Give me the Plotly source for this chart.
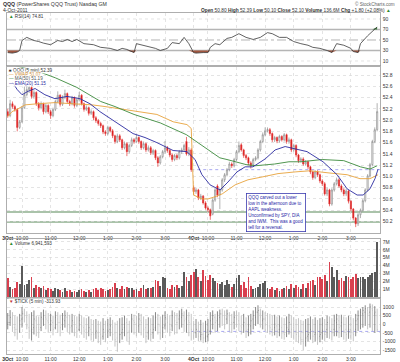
import plotly.graph_objects as go

# ---------------- data ----------------
bars = list(range(156))  # 5-minute bars, 3-Oct (0..77) and 4-Oct (78..155)
tick_pos = [0, 6, 18, 30, 42, 54, 66, 78, 84, 96, 108, 120, 132, 144]
tick_txt = ["<b>3Oct</b>", "10:00", "11:00", "12:00", "1:00", "2:00", "3:00",
            "<b>4Oct</b>", "10:00", "11:00", "12:00", "1:00", "2:00", "3:00"]

qqq_open = [
    52.15, 52.08, 52.29, 52.24, 52.19, 51.87, 51.97, 52.22, 52.45, 52.54,
    52.58, 52.42, 52.49, 52.29, 52.22, 52.29, 52.15, 52.26, 52.15, 52.08,
    52.19, 52.33, 52.44, 52.28, 52.40, 52.47, 52.33, 52.29, 52.40, 52.26,
    52.36, 52.44, 52.29, 52.19, 52.22, 52.12, 52.15, 52.04, 51.99, 51.94,
    51.90, 51.79, 51.76, 51.87, 51.81, 51.72, 51.62, 51.72, 51.65, 51.51,
    51.58, 51.44, 51.55, 51.65, 51.62, 51.69, 51.62, 51.51, 51.58, 51.47,
    51.51, 51.42, 51.46, 51.33, 51.24, 51.35, 51.44, 51.51, 51.46, 51.38,
    51.30, 51.37, 51.33, 51.44, 51.47, 51.62, 51.40, 51.47,
    50.80, 50.73, 50.76, 50.62, 50.65, 50.53, 50.44, 50.41, 50.33, 50.58,
    50.83, 50.67, 50.76, 50.94, 51.03, 51.12, 51.22, 51.19, 51.30, 51.44,
    51.56, 51.47, 51.37, 51.33, 51.24, 51.21, 51.30, 51.33, 51.47, 51.62,
    51.74, 51.81, 51.83, 51.76, 51.65, 51.69, 51.63, 51.71, 51.65, 51.74,
    51.62, 51.65, 51.47, 51.55, 51.38, 51.28, 51.31, 51.22, 51.26, 51.17,
    51.08, 50.98, 51.08, 51.03, 50.92, 50.87, 50.69, 50.76, 50.51, 50.76,
    50.87, 50.94, 50.83, 50.76, 50.69, 50.74, 50.56, 50.42, 50.26, 50.16,
    50.32, 50.40, 50.57, 50.76, 51.01, 51.21, 51.62, 51.83]
qqq_high = [
    52.20, 52.36, 52.33, 52.27, 52.21, 52.00, 52.25, 52.60, 52.65, 52.62,
    52.60, 52.53, 52.51, 52.32, 52.33, 52.31, 52.29, 52.28, 52.18, 52.22,
    52.36, 52.51, 52.46, 52.44, 52.54, 52.49, 52.36, 52.43, 52.42, 52.40,
    52.50, 52.46, 52.31, 52.26, 52.24, 52.19, 52.17, 52.07, 52.02, 51.97,
    51.92, 51.82, 51.90, 51.89, 51.84, 51.74, 51.76, 51.75, 51.67, 51.62,
    51.61, 51.58, 51.69, 51.68, 51.74, 51.71, 51.64, 51.62, 51.60, 51.55,
    51.54, 51.49, 51.48, 51.36, 51.38, 51.47, 51.63, 51.54, 51.49, 51.41,
    51.40, 51.40, 51.47, 51.51, 51.58, 51.70, 51.52, 51.50,
    50.84, 50.80, 50.78, 50.69, 50.67, 50.56, 50.47, 50.43, 50.61, 50.80,
    50.86, 50.79, 50.97, 51.06, 51.15, 51.26, 51.25, 51.33, 51.47, 51.62,
    51.59, 51.49, 51.40, 51.35, 51.27, 51.33, 51.36, 51.50, 51.65, 51.78,
    51.87, 51.87, 51.86, 51.78, 51.72, 51.71, 51.74, 51.73, 51.77, 51.76,
    51.69, 51.67, 51.58, 51.57, 51.40, 51.34, 51.34, 51.29, 51.28, 51.19,
    51.10, 51.11, 51.11, 51.05, 50.95, 50.90, 50.80, 50.78, 50.79, 50.90,
    50.98, 50.97, 50.86, 50.79, 50.78, 50.76, 50.58, 50.44, 50.28, 50.35,
    50.43, 50.60, 50.79, 51.04, 51.24, 51.65, 51.87, 52.30]
qqq_low = [
    52.04, 52.05, 52.20, 52.15, 51.80, 51.84, 51.95, 52.20, 52.42, 52.48,
    52.38, 52.38, 52.25, 52.17, 52.19, 52.10, 52.12, 52.11, 52.02, 52.05,
    52.16, 52.30, 52.24, 52.25, 52.37, 52.30, 52.25, 52.26, 52.22, 52.23,
    52.33, 52.26, 52.15, 52.16, 52.08, 52.09, 52.00, 51.95, 51.90, 51.86,
    51.75, 51.72, 51.73, 51.78, 51.68, 51.58, 51.59, 51.61, 51.47, 51.48,
    51.36, 51.41, 51.52, 51.58, 51.59, 51.58, 51.47, 51.48, 51.43, 51.44,
    51.38, 51.38, 51.29, 51.17, 51.21, 51.32, 51.41, 51.42, 51.34, 51.26,
    51.27, 51.29, 51.30, 51.40, 51.44, 51.37, 51.36, 51.08,
    50.68, 50.69, 50.58, 50.58, 50.50, 50.41, 50.37, 50.23, 50.31, 50.55,
    50.63, 50.42, 50.73, 50.90, 51.00, 51.09, 51.15, 51.16, 51.27, 51.41,
    51.44, 51.33, 51.29, 51.20, 51.14, 51.17, 51.27, 51.30, 51.44, 51.59,
    51.71, 51.78, 51.72, 51.61, 51.61, 51.59, 51.60, 51.62, 51.62, 51.58,
    51.58, 51.43, 51.44, 51.34, 51.24, 51.25, 51.19, 51.19, 51.13, 51.04,
    50.94, 50.95, 50.99, 50.88, 50.83, 50.66, 50.65, 50.47, 50.48, 50.73,
    50.84, 50.80, 50.72, 50.65, 50.65, 50.52, 50.38, 50.22, 50.10, 50.12,
    50.26, 50.37, 50.54, 50.73, 50.98, 51.18, 51.59, 51.80]
qqq_close = [
    52.08, 52.29, 52.24, 52.19, 51.87, 51.97, 52.22, 52.45, 52.54, 52.58,
    52.42, 52.49, 52.29, 52.22, 52.29, 52.15, 52.26, 52.15, 52.08, 52.19,
    52.33, 52.44, 52.28, 52.40, 52.47, 52.33, 52.29, 52.40, 52.26, 52.36,
    52.44, 52.29, 52.19, 52.22, 52.12, 52.15, 52.04, 51.99, 51.94, 51.90,
    51.79, 51.76, 51.87, 51.81, 51.72, 51.62, 51.72, 51.65, 51.51, 51.58,
    51.44, 51.55, 51.65, 51.62, 51.69, 51.62, 51.51, 51.58, 51.47, 51.51,
    51.42, 51.46, 51.33, 51.24, 51.35, 51.44, 51.51, 51.46, 51.38, 51.30,
    51.37, 51.33, 51.44, 51.47, 51.55, 51.40, 51.47, 51.12,
    50.73, 50.76, 50.62, 50.65, 50.53, 50.44, 50.41, 50.30, 50.58, 50.76,
    50.67, 50.76, 50.94, 51.03, 51.12, 51.22, 51.19, 51.30, 51.44, 51.55,
    51.47, 51.37, 51.33, 51.24, 51.19, 51.30, 51.33, 51.47, 51.62, 51.74,
    51.81, 51.83, 51.76, 51.65, 51.69, 51.63, 51.71, 51.65, 51.74, 51.62,
    51.65, 51.47, 51.55, 51.38, 51.28, 51.31, 51.22, 51.26, 51.17, 51.08,
    50.98, 51.08, 51.03, 50.92, 50.87, 50.69, 50.76, 50.51, 50.76, 50.87,
    50.94, 50.83, 50.76, 50.69, 50.74, 50.56, 50.42, 50.26, 50.16, 50.32,
    50.40, 50.57, 50.76, 51.01, 51.21, 51.62, 51.83, 52.15]

ma50_x = [0, 7, 13, 20, 29, 39, 45, 53, 64, 75, 79, 81, 89, 92, 100, 104,
          112, 118, 123, 132, 141, 148, 152, 155]
ma50_y = [53.00, 52.93, 52.86, 52.75, 52.58, 52.33, 52.24, 52.10, 51.95, 51.74,
          51.62, 51.56, 51.33, 51.30, 51.21, 51.19, 51.22, 51.26, 51.26, 51.30,
          51.28, 51.17, 51.13, 51.19]

ema20_x = [2, 4, 6, 8.5, 11.5, 15.6, 19.8, 24.9, 30.3, 34.5, 38.7, 45, 52.6,
           57.6, 62.6, 69.4, 75.2, 78.6, 81.5, 84.9, 89.1, 92.4, 96.2, 99.6,
           102.9, 108, 112.2, 116.4, 120.6, 125.6, 132.3, 138.2, 142.4, 146.6,
           149.1, 152, 154.1, 155.4]
ema20_y = [52.67, 52.54, 52.45, 52.51, 52.56, 52.45, 52.38, 52.42, 52.38, 52.29,
           52.15, 51.97, 51.76, 51.69, 51.60, 51.46, 51.44, 51.30, 51.03, 50.85,
           50.76, 50.90, 51.08, 51.17, 51.17, 51.31, 51.47, 51.53, 51.49, 51.44,
           51.26, 51.03, 50.78, 50.67, 50.67, 50.78, 50.96, 51.13]

vwap_x = [0, 1.8, 4.3, 7.3, 12.7, 19.8, 27, 35.4, 40.8, 52.6, 62.6, 69.4, 75.2, 77,
          78, 81.5, 84, 87, 90, 95.4, 100.8, 106.7, 113.4, 120.6, 126.8, 135.2,
          142.4, 147.8, 152, 155.4]
vwap_y = [52.06, 52.15, 52.20, 52.27, 52.29, 52.31, 52.29, 52.27, 52.24, 52.17,
          52.10, 51.97, 51.92, 51.85,
          50.67, 50.60, 50.60, 50.64, 50.69, 50.85, 50.94, 50.99, 51.05, 51.08,
          51.10, 51.06, 51.03, 50.96, 50.96, 51.03]

support_levels = [50.37, 50.19]
prev_close_level = 51.12

rsi_x = [0, 2, 4, 5, 6, 8, 9, 11, 13, 15, 18, 21, 23, 25, 27, 29, 32, 36, 39, 43,
         46, 48, 50, 53, 54, 57, 60, 62, 64, 67, 69, 72, 74, 76, 78, 79, 82, 84, 85, 87,
         89, 92, 94, 97, 100, 103, 106, 109, 111, 114, 117, 120, 123, 126, 128, 131,
         134, 136, 138, 141, 144, 145, 147, 148, 151, 153, 155]
rsi_val = [26, 25, 27, 30, 49, 55, 53, 49, 47, 44, 41, 49, 47, 51, 47, 51, 43, 41, 36, 34,
           30, 34, 32, 26, 43, 40, 36, 34, 30, 34, 45, 43, 55, 43, 26, 25, 26, 26, 36, 43,
           41, 53, 55, 62, 55, 51, 55, 64, 62, 55, 55, 47, 43, 40, 36, 34,
           30, 26, 43, 40, 34, 28, 26, 43, 58, 66, 74.8]

volume_m = [
    2.4, 1.3, 1.0, 1.2, 1.9, 1.7, 4.0, 1.5, 1.7, 2.2,
    2.6, 1.2, 1.5, 1.3, 1.2, 1.4, 0.9, 1.1, 1.0, 0.8,
    1.1, 1.0, 0.9, 0.7, 1.2, 0.8, 0.9, 0.6, 0.8, 0.7,
    0.9, 1.0, 0.8, 0.6, 0.9, 0.7, 1.0, 1.1, 0.9, 1.2,
    1.0, 0.8, 0.9, 1.0, 1.3, 1.8, 1.1, 1.0, 1.4, 1.0,
    1.3, 1.1, 1.2, 0.9, 1.0, 0.8, 1.1, 1.5, 1.0, 1.2,
    1.1, 1.3, 2.2, 2.0, 1.4, 2.6, 2.4, 1.2, 1.0, 1.5,
    1.3, 1.5, 1.2, 1.4, 3.2, 2.6, 2.0, 2.8,
    3.2, 3.6, 2.6, 2.0, 3.4, 2.7, 2.2, 2.8, 2.4, 2.0,
    1.8, 1.6, 1.9, 1.5, 2.2, 1.7, 1.3, 1.6, 2.4, 2.8,
    1.5, 1.9, 1.2, 2.6, 1.4, 1.0, 1.1, 1.3, 1.6, 1.8,
    2.0, 1.2, 1.0, 1.3, 0.9, 1.1, 0.8, 1.0, 1.2, 1.4,
    1.0, 1.6, 1.1, 1.5, 1.3, 1.0, 1.7, 1.2, 1.8, 2.0,
    2.2, 1.5, 2.5, 2.6, 2.3, 2.8, 2.0, 4.5, 3.8, 2.6,
    3.4, 2.2, 2.4, 2.0, 2.7, 2.5, 2.3, 2.6, 2.9, 2.4,
    2.6, 2.5, 2.3, 2.6, 2.8, 3.0, 3.2, 6.94]

tick_high = [
    650, 820, 700, 500, 450, 600, 1000, 900, 750, 600, 700, 800,
    500, 450, 700, 850, 800, 650, 600, 500, 750, 700, 550, 650,
    800, 700, 550, 600, 500, 450, 600, 500, 400, 350, 450, 300,
    250, 300, 200, 150, 350, 200, 300, 400, 250, 100, 200, 350,
    400, 500, 350, 200, 600, 550, 500, 650, 600, 450, 300, 400,
    350, 500, 700, 600, 450, 550, 750, 600, 500, 800, 700, 650,
    800, 900, 750, 850, 700, 600,
    200, 300, 150, 250, 100, 200, 300, 700, 800, 600, 750, 850,
    900, 800, 850, 700, 600, 750, 800, 700, 500, 600, 400, 500,
    600, 800, 1000, 1100, 900, 800, 700, 650, 600, 500, 550, 450,
    500, 400, 350, 450, 600, 500, 400, 300, 350, 250, 200, 300,
    350, 450, 300, 400, 250, 350, 400, 300, 500, 450, 350, 550,
    600, 500, 550, 450, 400, 500, 450, 350, 600, 800, 900, 1000,
    1100, 1000, 1200, 1150, 1050, 900]
tick_low = [
    -300, -100, -450, -700, -900, -500, -200, 100, -300, -850, -950, -600,
    -700, -800, -400, -100, -300, -500, -400, -650, -300, -500, -700, -350,
    -200, -450, -600, -500, -700, -800, -400, -600, -800, -900, -700, -950,
    -1000, -850, -1100, -1200, -900, -1050, -800, -700, -950, -1300, -1600, -1100,
    -900, -700, -1000, -1200, -500, -600, -700, -500, -650, -800, -1100, -900,
    -1000, -850, -400, -600, -900, -800, -300, -500, -700, -400, -600, -550,
    -300, -200, -450, -500, -700, -950,
    -900, -800, -1000, -950, -1100, -1050, -1000, -600, -300, -500, -400, -200,
    -100, -300, 0, -400, -500, -300, -200, -400, -600, -500, -800, -700,
    -600, -300, -100, 0, -200, -300, -400, -500, -600, -700, -650, -800,
    -700, -850, -900, -750, -600, -800, -900, -1000, -1100, -1200, -1500, -1300,
    -1000, -900, -1100, -1000, -1200, -1050, -900, -1000, -800, -850, -950, -700,
    -700, -800, -750, -900, -1000, -850, -900, -1000, -700, -400, -300, -200,
    -100, -300, -200, -400, -500, -450]
tick_open = [
    0, 100, 300, -200, -300, -400, 300, 600, 400, -200, -400, -200,
    200, -200, -200, 300, 400, 200, 0, 100, -200, 300, 100, -100,
    200, 400, -100, -100, 100, -200, -300, 100, -200, -300, -400, -300,
    -500, -500, -500, -600, -700, -400, -500, -300, -200, -500, -800, -1000,
    -500, -200, 100, -400, -400, 200, 0, -100, 200, 0, -200, -500,
    -300, -500, -200, 300, -100, -400, -100, 300, 0, -100, 400, 100,
    300, 400, 500, 300, 200, 0,
    -300, -500, -400, -700, -600, -800, -700, -400, 300, 400, 200, 400,
    600, 400, 300, 500, 100, 100, 400, 200, -100, -100, 0, -300,
    -100, 300, 400, 700, 600, 200, 300, 100, -100, -300, -200, -100,
    -300, -200, -500, -400, -300, 0, -200, -400, -500, -800, -900, -1000,
    -700, -500, -400, -600, -600, -700, -500, -500, -300, 0, -300, -300,
    100, 200, -100, 0, -300, -500, -300, -500, -300, 300, 500, 600,
    700, 800, 700, 900, 600, 500]
tick_close = [
    100, 400, -200, -300, -500, 200, 600, 500, -100, -400, -300, 300,
    -200, -300, 400, 500, 300, 100, 200, -300, 400, 100, -200, 300,
    500, -100, -200, 200, -300, -400, 200, -100, -400, -500, -200, -600,
    -600, -400, -700, -800, -300, -600, -400, -100, -600, -900, -1200, -600,
    -300, 0, -500, -800, 300, 100, -200, 300, 100, -300, -700, -400,
    -600, -300, 400, 0, -500, -200, 400, 100, -300, 500, 200, 100,
    500, 600, 200, 400, 100, -300,
    -500, -300, -700, -600, -800, -700, -600, 200, 500, 100, 300, 600,
    500, 300, 600, 200, 0, 400, 300, 0, -200, 100, -400, -100,
    200, 500, 700, 800, 400, 300, 200, -100, -200, -300, 0, -400,
    -100, -500, -600, -200, 100, -300, -500, -600, -700, -900, -1100, -800,
    -600, -300, -700, -500, -800, -600, -400, -600, 100, -200, -500, 200,
    300, -200, 100, -400, -600, -300, -400, -600, 200, 500, 700, 800,
    900, 600, 1000, 800, 700, -314]
tick_ref_level = -420

# ---------------- layout helpers ----------------
W, H = 400, 362
PL, PR = 7, 380
def py(y):
    return 1 - y / H
def px(x):
    return (x - PL) / (PR - PL)

FONT = "Liberation Sans, Arial, sans-serif"
XR = [-0.3, 156.2]
GRID = "#d8d8d8"
BORDER = "#9a9a9a"

fig = go.Figure()

# ---- RSI panel ----
fig.add_trace(go.Scatter(x=rsi_x, y=[30] * len(rsi_x), mode="lines", line=dict(width=0),
                         hoverinfo="skip", showlegend=False, xaxis="x", yaxis="y"))
fig.add_trace(go.Scatter(x=rsi_x, y=[min(v, 30) for v in rsi_val], mode="lines",
                         line=dict(width=0), fill="tonexty", fillcolor="#a2563f",
                         hoverinfo="skip", showlegend=False, xaxis="x", yaxis="y"))
fig.add_trace(go.Scatter(x=rsi_x, y=[70] * len(rsi_x), mode="lines", line=dict(width=0),
                         hoverinfo="skip", showlegend=False, xaxis="x", yaxis="y"))
fig.add_trace(go.Scatter(x=rsi_x, y=[max(v, 70) for v in rsi_val], mode="lines",
                         line=dict(width=0), fill="tonexty", fillcolor="#3f7f3f",
                         hoverinfo="skip", showlegend=False, xaxis="x", yaxis="y"))
fig.add_trace(go.Scatter(x=rsi_x, y=rsi_val, mode="lines", line=dict(color="#3a3a3a", width=0.8),
                         showlegend=False, xaxis="x", yaxis="y"))

# ---- price panel ----
fig.add_trace(go.Candlestick(
    x=bars, open=qqq_open, high=qqq_high, low=qqq_low, close=qqq_close,
    xaxis="x2", yaxis="y2", whiskerwidth=0, showlegend=False,
    increasing=dict(line=dict(color="#8f8f8f", width=0.7), fillcolor="#ffffff"),
    decreasing=dict(line=dict(color="#e23a3a", width=0.7), fillcolor="#d40000")))
fig.add_trace(go.Scatter(x=vwap_x, y=vwap_y, mode="lines", line=dict(color="#e8a33c", width=0.9),
                         showlegend=False, xaxis="x2", yaxis="y2"))
fig.add_trace(go.Scatter(x=ma50_x, y=ma50_y, mode="lines", line=dict(color="#3c8a3c", width=0.9),
                         showlegend=False, xaxis="x2", yaxis="y2"))
fig.add_trace(go.Scatter(x=ema20_x, y=ema20_y, mode="lines", line=dict(color="#2a2aa0", width=0.9),
                         showlegend=False, xaxis="x2", yaxis="y2"))

# ---- volume panel ----
vol_colors = ["#d9404f" if c < o else "#5a5a5a" for o, c in zip(qqq_open, qqq_close)]
fig.add_trace(go.Bar(x=bars, y=[v * 1e6 for v in volume_m], marker=dict(color=vol_colors, line=dict(width=0)),
                     width=0.75, showlegend=False, xaxis="x3", yaxis="y3"))

# ---- $TICK panel ----
fig.add_trace(go.Ohlc(x=bars, open=tick_open, high=tick_high, low=tick_low, close=tick_close,
                      xaxis="x4", yaxis="y4", tickwidth=0.25, showlegend=False,
                      increasing=dict(line=dict(color="#7a7a7a", width=0.9)),
                      decreasing=dict(line=dict(color="#bdbdbd", width=0.9))))

# ---------------- axes ----------------
def xax(anchor, labels):
    return dict(domain=[0, 1], range=XR, anchor=anchor, tickmode="array",
                tickvals=tick_pos, ticktext=tick_txt, showticklabels=labels,
                tickfont=dict(size=5, color="#333", family=FONT), ticks="",
                showgrid=True, gridcolor=GRID, griddash="dot", gridwidth=0.7,
                showline=True, mirror=True, linecolor=BORDER, linewidth=0.8,
                zeroline=False, automargin=False, rangeslider=dict(visible=False),
                fixedrange=True)

def yax(anchor, domain, rng, tv, tt, grid=True):
    return dict(domain=domain, range=rng, side="right", anchor=anchor, tickmode="array",
                tickvals=tv, ticktext=tt, tickfont=dict(size=5, color="#333", family=FONT),
                ticks="outside", ticklen=1, tickcolor="rgba(0,0,0,0)", showticklabels=True,
                showgrid=grid, gridcolor=GRID, griddash="dot", gridwidth=0.7,
                showline=True, mirror=True, linecolor=BORDER, linewidth=0.8,
                zeroline=False, automargin=False, fixedrange=True)

price_ticks = [50.2, 50.4, 50.6, 50.8, 51.0, 51.2, 51.4, 51.6, 51.8, 52.0, 52.2, 52.4, 52.6, 52.8]
vol_ticks = [1e6, 2e6, 3e6, 4e6, 5e6, 6e6, 7e6]
tick_ticks = [-1500, -1000, -500, 0, 500, 1000]

# panel pixel edges (top, bottom)
RSI_T, RSI_B = 13, 65.5
PR_T, PR_B = 66.5, 233
VO_T, VO_B = 239, 297.5
TK_T, TK_B = 298.5, 354

def prange(top, bottom):
    k = (221.5 - 75) / 2.6
    return [50.2 - (bottom - 221.5) / k, 52.8 + (75 - top) / k]

def trange(top, bottom):
    k = 8.6 / 500
    return [(324.2 - bottom) / k, (324.2 - top) / k]

fig.update_layout(
    width=W, height=H, margin=dict(l=PL, r=W - PR, t=0, b=0, autoexpand=False),
    paper_bgcolor="white", plot_bgcolor="white",
    font=dict(family=FONT, size=5, color="#333"),
    showlegend=False, bargap=0,
    xaxis=xax("y", False), xaxis2=xax("y2", True), xaxis3=xax("y3", False), xaxis4=xax("y4", True),
    yaxis=yax("x", [py(RSI_B), py(RSI_T)], [1.4, 101.4], [10, 30, 50, 70, 90],
              ["10", "30", "50", "70", "90"], grid=False),
    yaxis2=yax("x2", [py(PR_B), py(PR_T)], prange(PR_T, PR_B), price_ticks,
               [f"{v:.1f}" for v in price_ticks]),
    yaxis3=yax("x3", [py(VO_B), py(VO_T)], [-0.06e6, 7.38e6], vol_ticks,
               ["1M", "2M", "3M", "4M", "5M", "6M", "7M"]),
    yaxis4=yax("x4", [py(TK_B), py(TK_T)], trange(TK_T, TK_B), tick_ticks,
               ["-1500", "-1000", "-500", "0", "500", "1000"]),
)

shapes = []
for lvl, dash, col, wid in [(90, "dot", GRID, 0.7), (10, "dot", GRID, 0.7),
                            (70, "solid", "#b5b5b5", 1.4), (30, "solid", "#b5b5b5", 1.4),
                            (50, "dashdot", "#a0a0a0", 0.8)]:
    shapes.append(dict(type="line", xref="x domain", yref="y", x0=0, x1=1, y0=lvl, y1=lvl,
                       line=dict(color=col, width=wid, dash=dash), layer="below"))
for lvl in support_levels:
    shapes.append(dict(type="line", xref="x2 domain", yref="y2", x0=0, x1=1, y0=lvl, y1=lvl,
                       line=dict(color="#aac3aa", width=2), layer="below"))
shapes.append(dict(type="line", xref="x2", yref="y2", x0=77, x1=XR[1], y0=prev_close_level,
                   y1=prev_close_level, line=dict(color="#a9a9f0", width=1, dash="dot"), layer="below"))
shapes.append(dict(type="line", xref="x4", yref="y4", x0=77, x1=XR[1], y0=tick_ref_level,
                   y1=tick_ref_level, line=dict(color="#a9a9f0", width=1, dash="dot"), layer="below"))
fig.update_layout(shapes=shapes)

GREEN = "#2d8a2d"
ann = []
def txt(x, y, s, size=5, color="#333", xanchor="left", bg=None):
    d = dict(xref="paper", yref="paper", x=px(x), y=py(y), text=s, showarrow=False,
             xanchor=xanchor, yanchor="middle", font=dict(size=size, color=color, family=FONT),
             borderpad=0)
    if bg:
        d["bgcolor"] = bg
    ann.append(d)

txt(2, 4, "<b>QQQ</b> (PowerShares QQQ Trust) Nasdaq GM", size=5.2, color="#333")
txt(2, 10, "4-Oct-2011", size=5, color="#333")
txt(396, 3.5, "© StockCharts.com", size=4.6, color="#666", xanchor="right")
txt(392, 10, "<b>Open</b> 50.80 <b>High</b> 52.39 <b>Low</b> 50.10 <b>Close</b> 52.10 "
             "<b>Volume</b> 136.6M <b>Chg</b> +1.80 (+2.08%) "
             f"<span style='color:{GREEN}'>▲</span>", size=4.8, color="#333", xanchor="right")
txt(8, 16, f"<span style='color:{GREEN}'>▲</span> RSI(14) 74.81", size=4.6, color="#333",
    bg="rgba(255,255,255,0.85)")
txt(8, 70, "<b>■</b> QQQ (5 min) 52.39", size=4.6, color="#333", bg="rgba(255,255,255,0.85)")
txt(8, 74.5, "<span style='color:#e8a33c'>—</span> VWAP 51.07", size=4.6, color="#c9862a",
    bg="rgba(255,255,255,0.85)")
txt(8, 79, "<span style='color:#3c8a3c'>—</span> MA(50) 51.19", size=4.6, color="#555",
    bg="rgba(255,255,255,0.85)")
txt(8, 83.5, "<span style='color:#2a2aa0'>—</span> EMA(20) 51.15", size=4.6, color="#2a2aa0",
    bg="rgba(255,255,255,0.85)")
txt(8, 243, f"<span style='color:{GREEN}'>▲</span> Volume 6,941,593", size=4.6, color="#333",
    bg="rgba(255,255,255,0.85)")
txt(8, 301.5, "<span style='color:#c03030'>▼</span> $TICK (5 min) -313.93", size=4.6, color="#333",
    bg="rgba(255,255,255,0.85)")

ann.append(dict(xref="paper", yref="paper", x=px(246), y=py(193), xanchor="left", yanchor="top",
                text="QQQ carved out a lower<br>low in the afternoon due to<br>AAPL weakness.<br>"
                     "Unconfirmed by SPY, DIA<br>and IWM.  This was a good<br>tell for a reversal.",
                align="left", showarrow=False, bgcolor="white", bordercolor="#3b3bb0",
                borderwidth=0.8, borderpad=1.5,
                font=dict(size=4.5, color="#2626a6", family=FONT)))
fig.update_layout(annotations=ann)

fig.write_html("out.html", config={"displayModeBar": False, "staticPlot": True},
               post_script="document.body.style.margin='0';document.body.style.padding='0';"
                           "document.documentElement.style.overflow='hidden';")
